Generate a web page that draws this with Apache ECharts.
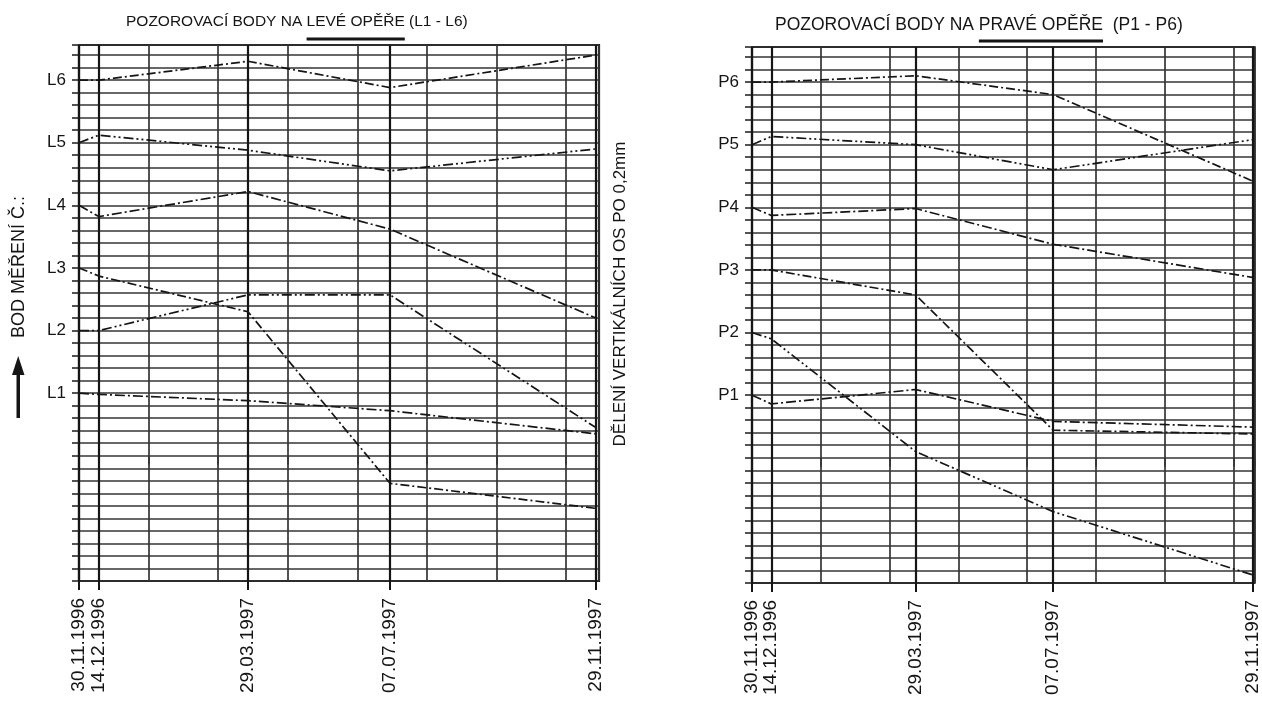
<!DOCTYPE html>
<html><head><meta charset="utf-8">
<script src="https://cdn.jsdelivr.net/npm/echarts@6/dist/echarts.min.js"></script>
<style>html,body{margin:0;padding:0;background:#fff}#c{width:1262px;height:703px}</style>
</head><body><div id="c"></div>
<script>
// ---- data ----
const dateLabels = ['30.11.1996', '14.12.1996', '29.03.1997', '07.07.1997', '29.11.1997'];
const dayOffsets = [0, 14, 119, 219, 364];           // days since 30.11.1996
const leftPointLabels = ['L1', 'L2', 'L3', 'L4', 'L5', 'L6'];
const rightPointLabels = ['P1', 'P2', 'P3', 'P4', 'P5', 'P6'];
// vertical positions (1 unit = one point spacing, grid = 0.2 mm)
const L1 = [1.0, 0.98, 0.88, 0.72, 0.35];
const L2 = [2.0, 2.0, 2.57, 2.57, 0.45];
const L3 = [3.0, 2.87, 2.3, -0.44, -0.84];
const L4 = [4.0, 3.82, 4.22, 3.62, 2.2];
const L5 = [5.0, 5.12, 4.88, 4.55, 4.9];
const L6 = [6.0, 6.0, 6.3, 5.88, 6.4];
const P1 = [1.0, 0.86, 1.09, 0.58, 0.49];
const P2 = [2.0, 1.9, 0.1, -0.86, -1.87];
const P3 = [3.0, 3.0, 2.6, 0.44, 0.38];
const P4 = [4.0, 3.87, 3.98, 3.41, 2.88];
const P5 = [5.0, 5.13, 5.0, 4.6, 5.08];
const P6 = [6.0, 6.0, 6.1, 5.8, 4.42];
const leftSeries = [L1, L2, L3, L4, L5, L6];
const rightSeries = [P1, P2, P3, P4, P5, P6];
const leftTitle = ['POZOROVACÍ BODY NA ', 'LEVÉ OPĚŘE', ' (L1 - L6)'];
const rightTitle = ['POZOROVACÍ BODY NA ', 'PRAVÉ OPĚŘE', '  (P1 - P6)'];
const yAxisName = 'BOD MĚŘENÍ Č.:';
const noteText = 'DĚLENÍ VERTIKÁLNÍCH OS PO 0,2mm';

// ---- styling ----
const FONT = "'Liberation Sans', Arial, Helvetica, sans-serif";
const INK = '#151515';
const GRIDC = '#353535';
const YMIN = -2, YMAX = 6.56;
const dashes = [[10, 3, 2, 3], [10, 3, 2, 3, 2, 3], [9, 3, 2, 3]];

const ctx = document.createElement('canvas').getContext('2d');
function tw(text, size) { ctx.font = size + 'px ' + FONT; return ctx.measureText(text).width; }

const chart = echarts.init(document.getElementById('c'), null, {renderer: 'canvas'});

function yLabel(names) {
  return v => {
    const r = Math.round(v);
    return (Math.abs(v - r) < 1e-6 && r >= 1 && r <= names.length) ? names[r - 1] : '';
  };
}
function xAxesFor(g, xmax, step) {
  return [
    { gridIndex: g, type: 'value', min: 0, max: xmax, interval: step, position: 'bottom',
      axisLine: {show: false}, axisLabel: {show: false},
      axisTick: {show: true, length: 9, lineStyle: {color: GRIDC, width: 1.7}},
      splitLine: {show: true, lineStyle: {color: GRIDC, width: 1.7}} },
    { gridIndex: g, type: 'value', min: 0, max: xmax, position: 'bottom',
      axisLine: {show: false}, splitLine: {show: false},
      axisTick: {show: true, customValues: dayOffsets, length: 9, lineStyle: {color: INK, width: 2}},
      axisLabel: {show: true, customValues: dayOffsets, rotate: 90, margin: 17, hideOverlap: false,
        showMinLabel: true, showMaxLabel: true,
        fontSize: 19, fontFamily: FONT, color: INK,
        formatter: v => dateLabels[dayOffsets.indexOf(v)] || ''} }
  ];
}
function yAxisFor(g, names) {
  return { gridIndex: g, type: 'value', min: YMIN, max: YMAX, interval: 0.2,
    axisLine: {show: false},
    axisTick: {show: true, length: 7, lineStyle: {color: GRIDC, width: 1.7}},
    splitLine: {show: true, lineStyle: {color: GRIDC, width: 1.7}},
    axisLabel: {show: true, margin: 13, fontSize: 17, fontFamily: FONT, color: INK, formatter: yLabel(names)} };
}
function seriesFor(list, names, xi, yi) {
  return list.map((vals, k) => ({
    type: 'line', name: names[k], xAxisIndex: xi, yAxisIndex: yi,
    data: dayOffsets.map((d, i) => [d, vals[i]]),
    symbol: 'none', silent: true, z: 5,
    lineStyle: {color: INK, width: 1.7, type: dashes[k % dashes.length]},
    markLine: k === 0 ? {
      silent: true, symbol: ['none', 'none'], animation: false,
      label: {show: false},
      lineStyle: {color: INK, width: 2.2, type: 'solid'},
      data: dayOffsets.map(d => ({xAxis: d}))
    } : undefined
  }));
}
function titleGraphics(parts, x0, y, size, underlineY) {
  const pre = tw(parts[0], size), word = tw(parts[1], size);
  return [
    {type: 'text', x: x0, y: y, style: {text: parts.join(''), font: size + 'px ' + FONT, fill: INK, textAlign: 'left', textVerticalAlign: 'middle'}},
    {type: 'line', shape: {x1: x0 + pre, y1: underlineY, x2: x0 + pre + word, y2: underlineY}, style: {stroke: INK, lineWidth: 3}}
  ];
}

const option = {
  animation: false,
  backgroundColor: '#fff',
  grid: [
    {left: 79, top: 45, width: 520, height: 536, show: true, borderColor: INK, borderWidth: 2.2},
    {left: 752, top: 47, width: 510, height: 536, show: true, borderColor: INK, borderWidth: 2.2}
  ],
  xAxis: [...xAxesFor(0, 366.2, 49), ...xAxesFor(1, 365.4, 50)],
  yAxis: [yAxisFor(0, leftPointLabels), yAxisFor(1, rightPointLabels)],
  series: [...seriesFor(leftSeries, leftPointLabels, 0, 0), ...seriesFor(rightSeries, rightPointLabels, 2, 1)],
  graphic: [
    ...titleGraphics(leftTitle, 126, 22, 15.5, 39),
    ...titleGraphics(rightTitle, 775, 25, 17.5, 41),
    {type: 'text', x: 19, y: 267, rotation: Math.PI / 2, style: {text: yAxisName, font: '18px ' + FONT, fill: INK, textAlign: 'center', textVerticalAlign: 'middle'}},
    {type: 'rect', shape: {x: 16.5, y: 370, width: 3.5, height: 48}, style: {fill: INK}},
    {type: 'polygon', shape: {points: [[18.2, 356], [12, 375], [24.5, 375]]}, style: {fill: INK}},
    {type: 'text', x: 620, y: 294, rotation: Math.PI / 2, style: {text: noteText, font: '17px ' + FONT, fill: INK, textAlign: 'center', textVerticalAlign: 'middle'}}
  ]
};
chart.setOption(option);
</script></body></html>
